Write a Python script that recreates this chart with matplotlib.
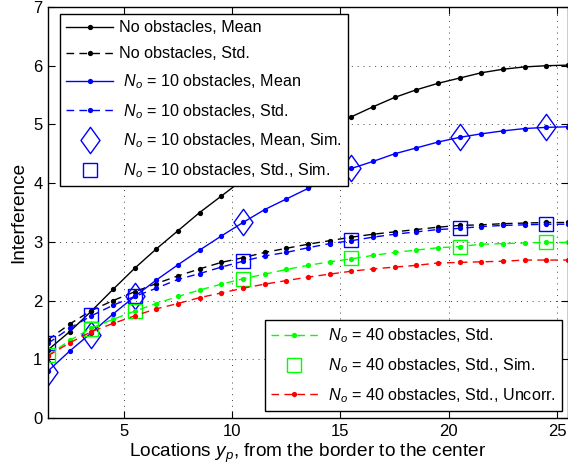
import matplotlib
matplotlib.use("Agg")
import matplotlib.pyplot as plt
from matplotlib.path import Path

plt.rcParams['font.family'] = ['Liberation Sans', 'DejaVu Sans']
plt.rcParams['mathtext.fontset'] = 'custom'
plt.rcParams['mathtext.rm'] = 'Liberation Sans'
plt.rcParams['mathtext.it'] = 'Liberation Sans:italic'

# locations y_p
x = [1.5, 2.5, 3.5, 4.5, 5.5, 6.5, 7.5, 8.5, 9.5, 10.5, 11.5, 12.5, 13.5,
     14.5, 15.5, 16.5, 17.5, 18.5, 19.5, 20.5, 21.5, 22.5, 23.5, 24.5, 25.5]

no_mean = [1.16, 1.47, 1.82, 2.19, 2.55, 2.88, 3.19, 3.50, 3.78, 4.06, 4.31, 4.54, 4.75,
           4.95, 5.13, 5.30, 5.46, 5.59, 5.70, 5.79, 5.88, 5.94, 5.98, 6.00, 6.01]
no_std = [1.33, 1.60, 1.83, 2.00, 2.15, 2.29, 2.42, 2.54, 2.65, 2.73, 2.82, 2.89, 2.96,
          3.02, 3.08, 3.13, 3.17, 3.21, 3.25, 3.28, 3.29, 3.31, 3.32, 3.33, 3.33]
o10_mean = [0.80, 1.14, 1.45, 1.77, 2.07, 2.35, 2.61, 2.86, 3.10, 3.33, 3.55, 3.73, 3.91,
            4.09, 4.25, 4.37, 4.50, 4.60, 4.70, 4.78, 4.84, 4.89, 4.93, 4.95, 4.96]
o10_std = [1.27, 1.53, 1.74, 1.92, 2.07, 2.21, 2.36, 2.46, 2.57, 2.67, 2.76, 2.82, 2.90,
           2.97, 3.02, 3.08, 3.13, 3.17, 3.21, 3.23, 3.26, 3.28, 3.29, 3.30, 3.30]
o40_std = [1.07, 1.32, 1.53, 1.68, 1.82, 1.95, 2.07, 2.18, 2.28, 2.37, 2.45, 2.53, 2.60,
           2.66, 2.71, 2.77, 2.82, 2.86, 2.90, 2.92, 2.96, 2.97, 2.98, 2.99, 2.99]
o40_uncorr = [1.06, 1.28, 1.47, 1.61, 1.74, 1.86, 1.95, 2.05, 2.13, 2.21, 2.28, 2.34, 2.40,
              2.45, 2.50, 2.54, 2.57, 2.60, 2.64, 2.65, 2.66, 2.67, 2.69, 2.69, 2.69]

# simulation points
sim_x = [1.5, 3.5, 5.5, 10.5, 15.5, 20.5, 24.5]
sim_o10_mean = [0.79, 1.41, 2.08, 3.33, 4.25, 4.78, 4.96]
sim_o10_std = [1.28, 1.75, 2.07, 2.67, 3.03, 3.24, 3.30]
sim_o40_std = [1.07, 1.51, 1.82, 2.37, 2.72, 2.92, 2.99]

# matlab-like tall diamond
diamond = Path([(0, 1), (0.72, 0), (0, -1), (-0.72, 0), (0, 1)],
               [Path.MOVETO, Path.LINETO, Path.LINETO, Path.LINETO, Path.CLOSEPOLY])

dash = (5.5, 3.8)
lw = 1.0
ms = 3.8
green = (0, 1, 0)

fig = plt.figure(figsize=(5.68, 4.74), dpi=100)
ax = fig.add_axes([48 / 568, 56 / 474, 520 / 568, 411 / 474])

h1, = ax.plot(x, no_mean, '-', color='k', marker='o', ms=ms, mew=0, lw=lw,
              label='No obstacles, Mean')
h2, = ax.plot(x, no_std, '--', color='k', marker='o', ms=ms, mew=0, lw=lw, dashes=dash,
              label='No obstacles, Std.')
h3, = ax.plot(x, o10_mean, '-', color='b', marker='o', ms=ms, mew=0, lw=lw,
              label=' $N_o$ = 10 obstacles, Mean')
h4, = ax.plot(x, o10_std, '--', color='b', marker='o', ms=ms, mew=0, lw=lw, dashes=dash,
              label=' $N_o$ = 10 obstacles, Std.')
h5, = ax.plot(sim_x, sim_o10_mean, ls='none', marker=diamond, ms=19, mfc='none',
              mec='b', mew=lw, label=' $N_o$ = 10 obstacles, Mean, Sim.')
h6, = ax.plot(sim_x, sim_o10_std, ls='none', marker='s', ms=10, mfc='none',
              mec='b', mew=lw, label=' $N_o$ = 10 obstacles, Std., Sim.')
h7, = ax.plot(x, o40_std, '--', color=green, marker='o', ms=ms, mew=0, lw=lw, dashes=dash,
              label=' $N_o$ = 40 obstacles, Std.')
h8, = ax.plot(sim_x, sim_o40_std, ls='none', marker='s', ms=10, mfc='none',
              mec=green, mew=lw, label=' $N_o$ = 40 obstacles, Std., Sim.')
h9, = ax.plot(x, o40_uncorr, '--', color='r', marker='o', ms=ms, mew=0, lw=lw, dashes=dash,
              label=' $N_o$ = 40 obstacles, Std., Uncorr.')

ax.set_xlim(1.5, 25.5)
ax.set_ylim(0, 7)
ax.set_xticks([5, 10, 15, 20, 25])
ax.set_yticks(range(8))
ax.tick_params(direction='in', top=True, right=True, labelsize=12, length=5, pad=4)
ax.grid(True, ls=(0, (1, 5)), color='0.25', lw=0.7)
for s in ax.spines.values():
    s.set_linewidth(1.0)

ax.set_xlabel('Locations $y_p$, from the border to the center', fontsize=13.7, labelpad=2)
ax.set_ylabel('Interference', fontsize=13.7, labelpad=4)

leg_kw = dict(fontsize=11.6, fancybox=False, framealpha=1, edgecolor='k',
              handlelength=2.9, handletextpad=0.37, numpoints=1, borderaxespad=0,
              labelspacing=0.68)
leg1 = ax.legend(handles=[h1, h2, h3, h4, h5, h6], loc='upper left',
                 bbox_to_anchor=(60 / 568, 1 - 14 / 474),
                 bbox_transform=fig.transFigure, **leg_kw)
leg1.get_frame().set_linewidth(1.0)
ax.add_artist(leg1)
leg2 = ax.legend(handles=[h7, h8, h9], loc='lower right',
                 bbox_to_anchor=(562 / 568, 1 - 411 / 474),
                 bbox_transform=fig.transFigure, **leg_kw)
leg2.get_frame().set_linewidth(1.0)

fig.savefig('out.png', dpi=100)
